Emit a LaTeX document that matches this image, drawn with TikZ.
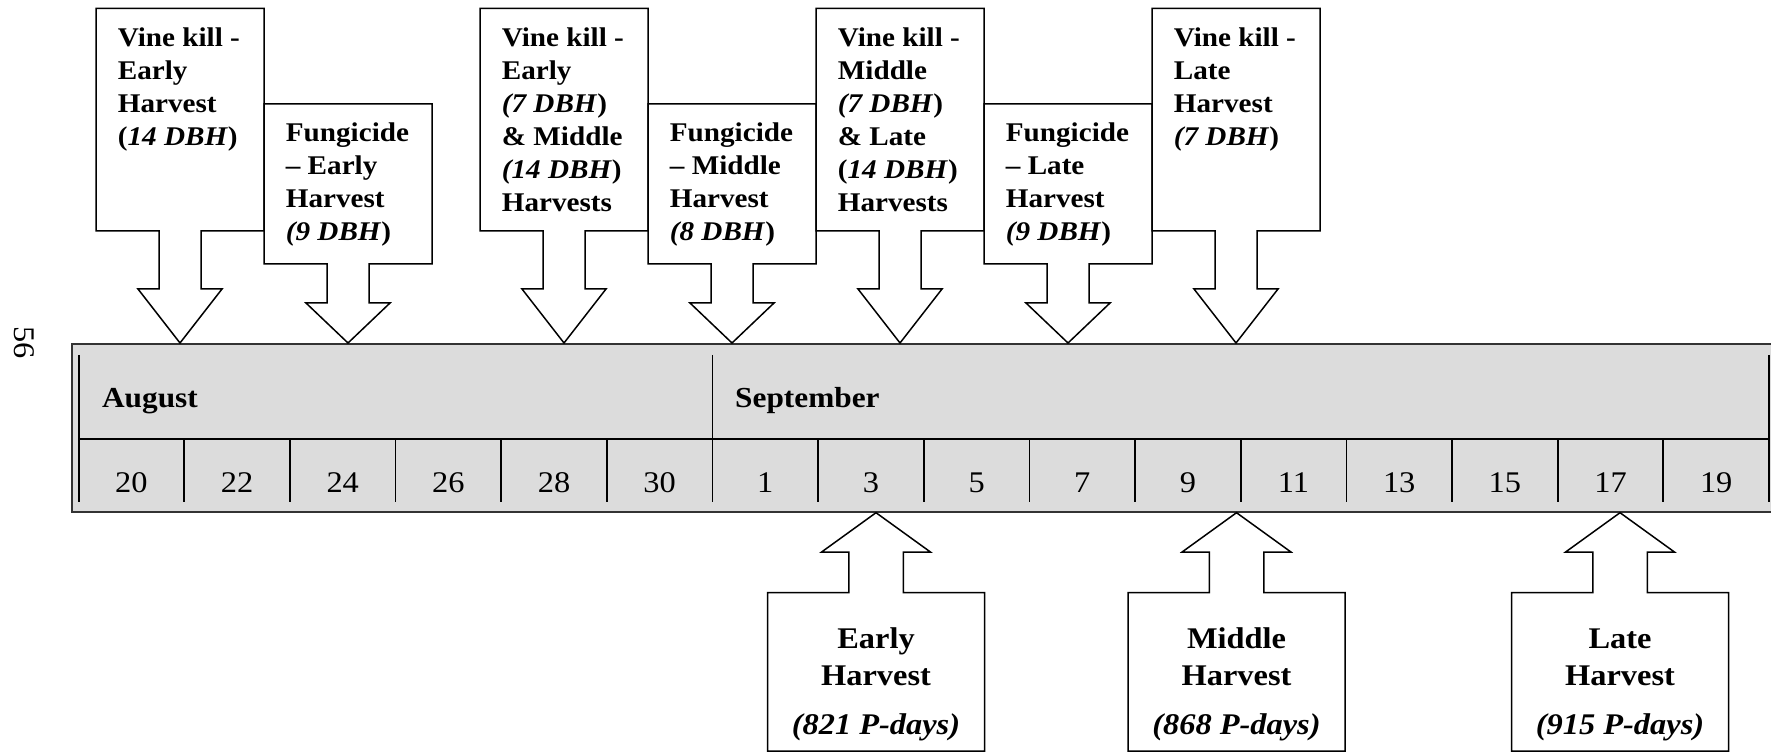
\documentclass[tikz,border=0pt]{standalone}
\usepackage{fontspec}
\setmainfont{Liberation Serif}[FakeStretch=1.08]
\definecolor{tlfill}{RGB}{220,220,220}
\newcommand\topcallout[6]{%
  \draw[callout] (#2,#3) -- ({#2+168},#3) -- ({#2+168},#4) -- ({#2+105},#4) -- ({#2+105},#5) -- ({#2+126},#5) -- ({#2+84},343) -- ({#2+42},#5) -- ({#2+63},#5) -- ({#2+63},#4) -- (#2,#4) -- cycle;
  \node[boxtext] (#1) at ({#2+21.5},{#3+38}) {\parbox[t]{70pt}{\raggedright #6}};
}
\newcommand\upcallout[3]{%
  \draw[callout] ({#2-108.5},751) -- ({#2-108.5},592.7) -- ({#2-27.25},592.7) -- ({#2-27.25},552) -- ({#2-54.4},552) -- (#2,512.7) -- ({#2+54.4},552) -- ({#2+27.25},552) -- ({#2+27.25},592.7) -- ({#2+108.5},592.7) -- ({#2+108.5},751) -- cycle;
  \node[bottext] (#1) at (#2,648) {\parbox[t]{100pt}{\centering #3}};
}
\begin{document}
\begin{tikzpicture}[x=0.5pt,y=-0.5pt,
  callout/.style={draw=black, fill=white, line width=0.75pt, line join=miter},
  boxtext/.style={anchor=base west, inner sep=0pt, font=\bfseries\fontsize{13.5}{16.5}\selectfont},
  bottext/.style={anchor=base, inner sep=0pt, font=\bfseries\fontsize{15}{18.5}\selectfont},
  numtext/.style={anchor=base, inner sep=0pt, font=\fontsize{15}{18}\selectfont},
  monthtext/.style={anchor=base west, inner sep=0pt, font=\bfseries\fontsize{14.5}{17}\selectfont},
  tline/.style={draw=black, line width=0.9pt}]
\useasboundingbox (0,0) rectangle (1771,753);
\clip (0,0) rectangle (1771,753);

% page number
\node[rotate=-90, inner sep=0pt, font=\fontsize{15}{18}\selectfont] (page) at (24,343) {56};

% timeline
\draw[fill=tlfill, draw=black!80, line width=1pt] (72,344) rectangle (1800,512);
\coordinate (tlA) at (78.6,355);
\coordinate (tlB) at (78.6,502);
\coordinate (tlC) at (1769,355);
\coordinate (tlD) at (1769,502);
\coordinate (divL) at (78.6,439.3);
\coordinate (divR) at (1769,439.3);
\coordinate (sepT) at (712.5,355);
\coordinate (sepB) at (712.5,502);
\draw[tline] (tlA) -- (tlB);
\draw[tline] (tlC) -- (tlD);
\draw[tline] (divL) -- (divR);
\draw[tline] (sepT) -- (sepB);
\foreach \k in {1,...,15}{
  \coordinate (ct\k) at ({78.6+\k*105.65},439.3);
  \coordinate (cb\k) at ({78.6+\k*105.65},502);
  \draw[tline] (ct\k) -- (cb\k);
}
\foreach \d [count=\k from 0] in {20,22,24,26,28,30,1,3,5,7,9,11,13,15,17,19}{
  \node[numtext] (day\k) at ({78.6+(\k+0.5)*105.65},492.7) {\d};
}
\node[monthtext] (aug) at (101.7,407.3) {August};
\node[monthtext] (sep) at (734.8,407.3) {September};

% top callouts
\topcallout{vk1}{96}{8.5}{231}{289}{Vine kill -\\Early\\Harvest\\(\textit{14 DBH})}
\topcallout{fg1}{264}{104}{264}{303}{Fungicide\\– Early\\Harvest\\\textit{(9 DBH})}
\topcallout{vk2}{480}{8.5}{231}{289}{Vine kill -\\Early\\\textit{(7 DBH})\\\& Middle\\\textit{(14 DBH})\\Harvests}
\topcallout{fg2}{648}{104}{264}{303}{Fungicide\\– Middle\\Harvest\\\textit{(8 DBH})}
\topcallout{vk3}{816}{8.5}{231}{289}{Vine kill -\\Middle\\\textit{(7 DBH})\\\& Late\\(\textit{14 DBH})\\Harvests}
\topcallout{fg3}{984}{104}{264}{303}{Fungicide\\– Late\\Harvest\\\textit{(9 DBH})}
\topcallout{vk4}{1152}{8.5}{231}{289}{Vine kill -\\Late\\Harvest\\\textit{(7 DBH})}

% bottom callouts
\upcallout{hv1}{876}{Early\\Harvest\\[6pt]\textit{(821 P-days)}}
\upcallout{hv2}{1236.5}{Middle\\Harvest\\[6pt]\textit{(868 P-days)}}
\upcallout{hv3}{1620}{Late\\Harvest\\[6pt]\textit{(915 P-days)}}
\end{tikzpicture}
\end{document}
